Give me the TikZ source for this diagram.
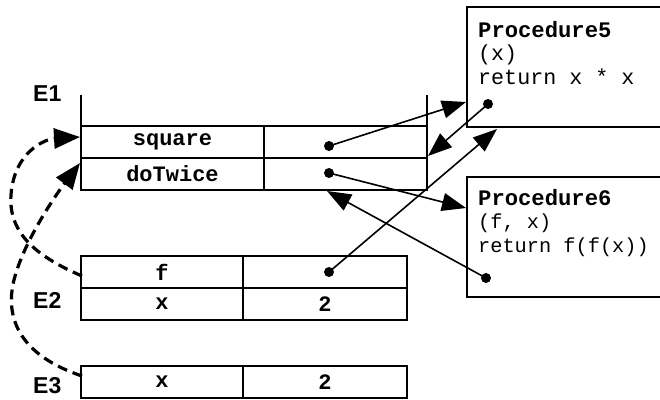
\documentclass[tikz,border=0pt]{standalone}
\usepackage{fontspec}
\setmonofont{Liberation Mono}
\newfontfamily\labfont{Liberation Sans}
\usetikzlibrary{arrows.meta}
\begin{document}
\begin{tikzpicture}[x=1pt,y=-1pt,
  cell/.style={draw, line width=2pt, inner sep=0pt, outer sep=0pt, minimum height=32pt,
    font=\ttfamily\bfseries\fontsize{22}{24}\selectfont},
  procbox/.style={draw, line width=2pt, inner sep=0pt, outer sep=0pt, minimum width=203pt},
  ptext/.style={anchor=base west, inner sep=0pt, font=\ttfamily\fontsize{21.7}{24}\selectfont},
  ptextsm/.style={anchor=base west, inner sep=0pt, font=\ttfamily\fontsize{20.3}{24}\selectfont},
  phead/.style={anchor=base west, inner sep=0pt, font=\ttfamily\bfseries\fontsize{22.2}{24}\selectfont},
  elab/.style={anchor=base west, inner sep=0pt, font=\labfont\bfseries\fontsize{23}{24}\selectfont},
  dotn/.style={circle, fill=black, inner sep=0pt, minimum size=10pt},
  frame/.style={line width=2pt},
  ptr/.style={line width=1.6pt, -{Triangle[length=24pt,width=18pt]}},
  envptr/.style={line width=3.2pt, dash pattern=on 10pt off 6pt, -{Triangle[length=26pt,width=20pt]}}]
\useasboundingbox (0,0) rectangle (660,399);
% E1
\coordinate (e1tl) at (81,95);
\coordinate (e1bl) at (81,190);
\coordinate (e1tr) at (427,95);
\coordinate (e1br) at (427,190);
\draw[frame] (e1tl) -- (e1bl);
\draw[frame] (e1tr) -- (e1br);
\node[cell, minimum width=183pt] (sqn) at (172.5,142) {square};
\node[cell, minimum width=163pt] (sqv) at (345.5,142) {};
\node[cell, minimum width=183pt] (dtn) at (172.5,174) {doTwice};
\node[cell, minimum width=163pt] (dtv) at (345.5,174) {};
\node[elab] (e1) at (33,101) {E1};
% E2
\node[cell, minimum width=162pt] (fn) at (162,272) {f};
\node[cell, minimum width=164pt] (fv) at (325,272) {};
\node[cell, minimum width=162pt] (xn) at (162,304) {x};
\node[cell, minimum width=164pt] (xv) at (325,304) {2};
\node[elab] (e2) at (33,308) {E2};
% E3
\node[cell, minimum width=162pt] (x3n) at (162,382) {x};
\node[cell, minimum width=164pt] (x3v) at (325,382) {2};
\node[elab] (e3) at (33,393) {E3};
% Procedures
\node[procbox, minimum height=120pt] (p5) at (568.5,67) {};
\node[phead] (p5a) at (478,37) {Procedure5};
\node[ptext] (p5b) at (478,60) {(x)};
\node[ptext] (p5c) at (478,84) {return x * x};
\node[procbox, minimum height=120pt] (p6) at (568.5,237) {};
\node[phead] (p6a) at (478,205) {Procedure6};
\node[ptextsm] (p6b) at (478,228) {(f, x)};
\node[ptextsm] (p6c) at (478,252) {return f(f(x))};
% dots
\node[dotn] (dsq) at (329,146) {};
\node[dotn] (ddt) at (329,173) {};
\node[dotn] (df) at (329,272) {};
\node[dotn] (dp5) at (488,104) {};
\node[dotn] (dp6) at (486,278) {};
% targets
\coordinate (t1) at (466,102);
\coordinate (t2) at (428,156);
\coordinate (t3) at (466,208);
\coordinate (t4) at (327,191);
\coordinate (t5) at (497,129);
\coordinate (t6) at (80,137);
\coordinate (t7) at (80,163);
\coordinate (s6) at (82,276);
\coordinate (s7) at (82,376);
\draw[ptr] (dsq.center) -- (t1);
\draw[ptr] (dp5.center) -- (t2);
\draw[ptr] (ddt.center) -- (t3);
\draw[ptr] (dp6.center) -- (t4);
\draw[ptr] (df.center) -- (t5);
% environment pointers
\draw[envptr] (s6) .. controls (40,258) and (8,235) .. (11,195) .. controls (14,152) and (45,139) .. (t6);
\draw[envptr] (s7) .. controls (22,356) and (4,320) .. (14,280) .. controls (24,240) and (58,192) .. (t7);
\end{tikzpicture}
\end{document}
